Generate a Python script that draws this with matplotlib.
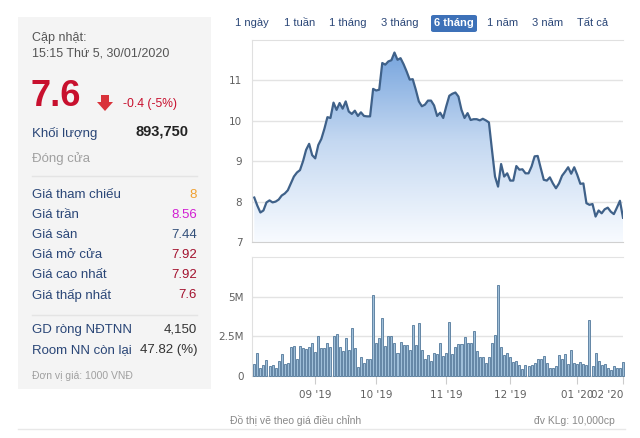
import numpy as np
import matplotlib.pyplot as plt
from matplotlib.patches import Rectangle, Polygon, FancyBboxPatch
from matplotlib.lines import Line2D
from matplotlib.colors import LinearSegmentedColormap

# gia dong cua (nghin dong), 122 phien
price = [8.1, 7.9, 7.73, 7.78, 7.98, 8.03, 7.98, 8.0, 8.05, 8.15,
         8.2, 8.28, 8.45, 8.62, 8.72, 8.78, 9.0, 9.28, 9.43, 9.15,
         9.07, 9.4, 9.55, 9.8, 10.09, 10.07, 10.45, 10.27, 10.44, 10.3,
         10.48, 10.23, 10.17, 10.25, 10.12, 10.21, 10.12, 10.11, 10.11, 10.79,
         10.75, 10.77, 11.43, 11.39, 11.47, 11.5, 11.69, 11.51, 11.55, 11.4,
         11.22, 11.02, 11.03, 10.77, 10.48, 10.36, 10.4, 10.5, 10.5, 10.38,
         10.12, 10.2, 10.07, 10.36, 10.62, 10.67, 10.7, 10.6, 10.27, 10.07,
         10.19, 10.02, 10.04, 10.04, 10.01, 10.05, 10.01, 9.96, 9.28, 8.62,
         8.37, 8.93, 8.62, 8.7, 8.52, 8.52, 8.88, 8.79, 8.8, 8.7,
         8.7, 8.87, 9.12, 9.13, 8.83, 8.54, 8.52, 8.6, 8.45, 8.33,
         8.45, 8.64, 8.74, 8.85, 8.69, 8.85, 8.66, 8.44, 8.45, 7.96,
         7.92, 7.94, 7.63, 7.78, 7.71, 7.81, 7.85, 7.75, 7.69, 7.85,
         8.02, 7.6]

# khoi luong (trieu cp)
volume = [0.74, 1.47, 0.53, 0.68, 1.0, 0.64, 0.68, 0.53, 0.94, 1.38,
          0.74, 0.85, 1.81, 1.89, 1.1, 1.89, 1.74, 1.68, 1.85, 2.1,
          1.53, 2.53, 1.74, 1.74, 2.06, 1.85, 2.49, 2.66, 1.81, 1.57,
          2.38, 1.64, 3.02, 1.74, 0.57, 1.17, 0.85, 1.04, 1.04, 5.1,
          2.1, 2.38, 3.66, 1.89, 2.49, 2.49, 2.06, 1.47, 2.13, 1.96,
          1.96, 1.64, 3.23, 1.96, 3.34, 1.64, 1.04, 1.32, 0.96, 1.45,
          1.38, 2.1, 1.26, 1.47, 3.38, 1.38, 1.85, 2.0, 2.0, 2.45,
          2.1, 2.06, 2.85, 1.57, 1.21, 1.21, 0.85, 1.17, 2.1, 2.6,
          5.72, 1.81, 1.32, 1.47, 1.21, 0.89, 0.96, 0.72, 0.47, 0.72,
          0.66, 0.72, 0.83, 1.04, 1.04, 1.26, 0.79, 0.49, 0.49, 0.62,
          1.34, 1.04, 1.38, 0.74, 1.64, 0.79, 0.74, 0.89, 0.74, 0.68,
          3.51, 0.62, 1.47, 0.94, 0.68, 0.74, 0.53, 0.4, 0.62, 0.49,
          0.49, 0.89]

month_pos = [20, 40, 63, 84, 106, 121]
month_labels = ["09 '19", "10 '19", "11 '19", "12 '19", "01 '20", "02 '20"]

ranges = ["1 ngày", "1 tuần", "1 tháng", "3 tháng", "6 tháng", "1 năm", "3 năm", "Tất cả"]
range_x = [252, 300, 348, 400, 454, 503, 548, 593]

info_labels = ["Giá tham chiếu", "Giá trần", "Giá sàn", "Giá mở cửa", "Giá cao nhất", "Giá thấp nhất"]
info_values = ["8", "8.56", "7.44", "7.92", "7.92", "7.6"]
info_colors = ["#f0a030", "#d21fd2", "#33507a", "#a3112e", "#a3112e", "#a3112e"]

W, H = 640, 438
FONT = ['Liberation Sans', 'DejaVu Sans']
NAVY = '#2a4677'


def fx(x):
    return x / W


def fy(y):
    return 1 - y / H


def ptext(x, y, s, **kw):
    kw.setdefault('family', FONT)
    kw.setdefault('va', 'center')
    fig.text(fx(x), fy(y), s, **kw)


def hline(x0, x1, y, color):
    fig.add_artist(Line2D([fx(x0), fx(x1)], [fy(y), fy(y)], color=color, lw=1))


fig = plt.figure(figsize=(6.4, 4.38), dpi=100)
fig.patch.set_facecolor('white')

# ---- khung thong tin ben trai ----
fig.add_artist(Rectangle((fx(18), fy(389)), (211 - 18) / W, (389 - 17) / H,
                         facecolor='#f4f4f4', edgecolor='none'))
ptext(32, 38, "Cập nhật:", size=9, color='#555555')
ptext(32, 53, "15:15 Thứ 5, 30/01/2020", size=9, color='#555555')
ptext(31, 96, "7.6", size=26, weight='bold', color='#c8102e')
fig.add_artist(Polygon([(fx(101), fy(95)), (fx(109), fy(95)), (fx(109), fy(102)),
                        (fx(113), fy(102)), (fx(105), fy(111)), (fx(97), fy(102)),
                        (fx(101), fy(102))], closed=True, facecolor='#d9323a', edgecolor='none'))
ptext(123, 104, "-0.4 (-5%)", size=8.7, color='#c8102e')
ptext(32, 133, "Khối lượng", size=9.5, color=NAVY)
ptext(188, 132, "893,750", size=10.5, weight='bold', color='#222222', ha='right')
ptext(32, 159, "Đóng cửa", size=9.5, color='#a0a0a0')
hline(32, 197, 176, '#e4e4e4')
for k, (lab, val, col) in enumerate(zip(info_labels, info_values, info_colors)):
    yy = 195 + k * 20
    ptext(32, yy, lab, size=9.5, color=NAVY)
    ptext(197, yy, val, size=9.5, color=col, ha='right')
hline(32, 197, 315, '#e4e4e4')
ptext(32, 330, "GD ròng NĐTNN", size=9.5, color=NAVY)
ptext(197, 330, "4,150", size=9.5, color='#333333', ha='right')
ptext(32, 350, "Room NN còn lại", size=9.5, color=NAVY)
ptext(197, 350, "47.82 (%)", size=9.5, color='#333333', ha='right')
ptext(32, 376, "Đơn vị giá: 1000 VNĐ", size=7.5, color='#a0a0a0')

# ---- nut chon khoang thoi gian ----
fig.add_artist(FancyBboxPatch((fx(431), fy(32)), (477 - 431) / W, 17 / H,
                              boxstyle='round,pad=0,rounding_size=0.004',
                              facecolor='#3d71b8', edgecolor='none'))
for lab, xx in zip(ranges, range_x):
    if lab == "6 tháng":
        ptext(xx, 23, lab, size=8, color='white', weight='bold', ha='center')
    else:
        ptext(xx, 23, lab, size=8, color=NAVY, ha='center')

# ---- bieu do gia ----
x = np.arange(len(price))
xlim = (-0.75, len(price) - 1)

ax1 = fig.add_axes([fx(252), fy(242), 371 / W, 202 / H])
ax1.set_xlim(*xlim)
ax1.set_ylim(7, 12)
cmap = LinearSegmentedColormap.from_list('fill', ['#f8fbff', '#c4d8f1', '#6d9edb'])
poly = ax1.fill_between(x, price, 7, color='none')
grad = np.linspace(0, 1, 256).reshape(-1, 1)
img = ax1.imshow(grad, cmap=cmap, aspect='auto', origin='lower',
                 extent=[xlim[0], xlim[1], 7, 12], zorder=1)
img.set_clip_path(poly.get_paths()[0], transform=ax1.transData)
ax1.plot(x, price, color='#3f6189', lw=1.6, zorder=3)
ax1.set_yticks([7, 8, 9, 10, 11])
ax1.grid(axis='y', color='#e3e3e3', lw=1)
ax1.set_axisbelow(True)
ax1.set_xticks([])
ax1.tick_params(axis='y', length=0, pad=7, labelsize=7.5, labelcolor='#606060')
ax1.spines['right'].set_visible(False)
ax1.spines['top'].set_color('#e0e0e0')
ax1.spines['left'].set_color('#e0e0e0')
ax1.spines['bottom'].set_color('#d0d0d0')

# ---- bieu do khoi luong ----
ax2 = fig.add_axes([fx(252), fy(376), 371 / W, 119 / H])
ax2.set_xlim(*xlim)
ax2.set_ylim(0, 7.5)
ax2.bar(x, volume, width=0.66, color='#9fbfd9', edgecolor='#52789a', linewidth=0.6,
        clip_on=False, zorder=3)
ax2.set_yticks([0, 2.5, 5])
ax2.set_yticklabels(['0', '2.5M', '5M'])
ax2.grid(axis='y', color='#e3e3e3', lw=1)
ax2.set_axisbelow(True)
ax2.set_xticks(month_pos)
ax2.set_xticklabels(month_labels)
ax2.get_xticklabels()[-1].set_ha('right')
ax2.tick_params(axis='y', length=0, pad=6, labelsize=7.5, labelcolor='#606060')
ax2.tick_params(axis='x', length=6, color='#cccccc', pad=4, labelsize=7.5, labelcolor='#606060')
ax2.spines['right'].set_visible(False)
ax2.spines['top'].set_color('#e3e3e3')
ax2.spines['left'].set_color('#e0e0e0')
ax2.spines['bottom'].set_color('#d8d8d8')

# ---- chu thich duoi ----
ptext(230, 421, "Đồ thị vẽ theo giá điều chỉnh", size=7.5, color='#888888')
ptext(615, 421, "đv KLg: 10,000cp", size=7.5, color='#888888', ha='right')
hline(18, 625, 429, '#e8e8e8')

fig.savefig('out.png', dpi=100)
